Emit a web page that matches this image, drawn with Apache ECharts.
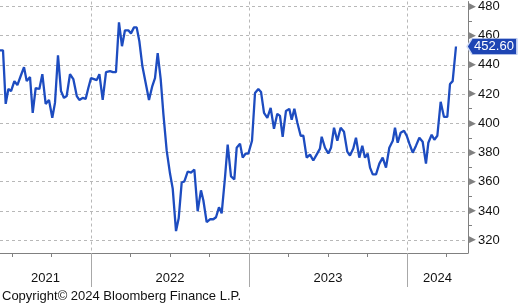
<!DOCTYPE html>
<html><head><meta charset="utf-8">
<script src="https://cdn.jsdelivr.net/npm/echarts@6/dist/echarts.min.js"></script>
<style>html,body{margin:0;padding:0;background:#fff}#c{width:518px;height:305px}</style>
</head><body><div id="c"></div>
<script>
// time positions (decimal years) of each weekly observation
const dates = [
2021.424,2021.443,2021.460,2021.477,2021.494,2021.515,2021.534,2021.555,2021.576,2021.593,
2021.614,2021.631,2021.650,2021.673,2021.692,2021.713,2021.734,2021.755,2021.772,2021.791,
2021.810,2021.829,2021.846,2021.867,2021.888,2021.910,2021.926,2021.947,2021.966,2021.983,
2022.000,2022.019,2022.036,2022.053,2022.074,2022.095,2022.120,2022.139,2022.158,2022.177,
2022.196,2022.215,2022.236,2022.253,2022.272,2022.289,2022.306,2022.325,2022.346,2022.367,
2022.388,2022.405,2022.422,2022.441,2022.458,2022.479,2022.500,2022.517,2022.538,2022.555,
2022.574,2022.591,2022.612,2022.633,2022.654,2022.675,2022.696,2022.711,2022.732,2022.753,
2022.774,2022.791,2022.810,2022.827,2022.848,2022.865,2022.886,2022.907,2022.922,2022.943,
2022.960,2022.979,2022.996,2023.019,2023.038,2023.059,2023.076,2023.095,2023.116,2023.137,
2023.158,2023.179,2023.196,2023.213,2023.234,2023.255,2023.270,2023.287,2023.306,2023.327,
2023.344,2023.365,2023.386,2023.407,2023.428,2023.449,2023.460,2023.481,2023.502,2023.519,
2023.538,2023.559,2023.580,2023.601,2023.622,2023.639,2023.660,2023.677,2023.698,2023.717,
2023.734,2023.751,2023.766,2023.783,2023.804,2023.825,2023.846,2023.867,2023.888,2023.910,
2023.924,2023.941,2023.960,2023.981,2023.998,2024.015,2024.036,2024.057,2024.078,2024.099,
2024.120,2024.135,2024.156,2024.173,2024.192,2024.213,2024.234,2024.255,2024.272,2024.289,
2024.310];
const values = [
450.0,450.0,413.3,423.5,422.1,428.9,426.2,432.4,438.5,428.9,
431.7,407.2,424.2,423.5,433.7,413.3,416.0,403.8,414.0,446.6,
422.1,417.4,418.7,433.7,430.3,418.7,416.0,417.4,416.7,424.2,
431.0,430.3,429.6,433.7,416.0,435.1,435.8,435.1,435.1,469.1,
452.8,463.7,463.7,461.6,465.7,465.7,456.2,439.2,427.6,416.0,
425.5,431.0,448.0,430.3,406.5,381.3,365.6,355.4,326.2,335.0,
359.5,360.2,367.0,366.3,368.4,339.8,354.1,347.3,332.3,334.3,
334.3,335.7,342.5,338.4,362.9,385.4,363.6,361.6,383.3,386.1,
376.5,379.3,379.3,388.1,420.8,423.5,421.5,407.2,403.8,410.6,
396.3,406.5,405.1,390.8,408.5,409.9,402.4,409.9,400.4,391.5,
391.5,376.5,378.6,374.5,378.6,382.7,390.8,383.3,379.3,383.3,
397.0,388.1,397.0,394.2,380.6,377.9,382.7,390.1,376.5,384.7,
376.5,379.3,369.7,365.0,365.0,372.4,376.5,369.7,383.3,388.1,
397.0,386.7,393.6,394.9,391.5,386.1,379.9,384.7,390.1,387.4,
372.4,386.7,392.2,388.8,391.5,414.7,404.4,404.4,426.9,428.9,
452.6];
const yTicks = [320,340,360,380,400,420,440,460,480];
const yMinorTicks = [330,350,370,390,410,430,450,470];
const yearBounds = [2022,2023,2024];
const quarterTicks = [2021.5,2021.75,2022.25,2022.5,2022.75,2023.25,2023.5,2023.75,2024.25];
const yearLabels = ['2021','2022','2023','2024'];
const yearLabelPos = [2021.712,2022.5,2023.5,2024.193];
const xMin = 2021.424, xMax = 2024.386, yMin = 311.2, yMax = 483.4;
const copyright = 'Copyright\u00A9 2024 Bloomberg Finance L.P.';

const FONT = '"Liberation Sans",Arial,sans-serif';
const AXIS = '#808080';
const GRIDC = '#b8b8b8';
const BLUE = '#1d4cc0';

const chart = echarts.init(document.getElementById('c'), null, {renderer:'canvas'});
const last = values.length - 1;
chart.setOption({
  animation: false,
  backgroundColor: '#fff',
  grid: {left: 0, right: 50, top: 0, bottom: 52, containLabel: false},
  xAxis: [
    {type:'value', min:xMin, max:xMax, position:'bottom',
     axisLine:{show:true, lineStyle:{color:AXIS, width:1}},
     axisTick:{show:true, customValues: quarterTicks, length:4, lineStyle:{color:AXIS}},
     axisLabel:{show:false}, splitLine:{show:false}},
    {type:'value', min:xMin, max:xMax, position:'bottom',
     axisLine:{show:false},
     axisTick:{show:true, customValues: yearBounds, length:34, lineStyle:{color:'#a8a8a8'}},
     axisLabel:{show:true, customValues: yearLabelPos, margin:19,
       formatter: v => yearLabels[yearLabelPos.findIndex(p => Math.abs(p - v) < 1e-6)],
       fontFamily: FONT, fontSize: 13, color:'#111'},
     splitLine:{show:true, lineStyle:{color:GRIDC, type:[3,3], width:1}}}
  ],
  yAxis: [
    {type:'value', min:yMin, max:yMax, position:'right',
     axisLine:{show:true, lineStyle:{color:AXIS, width:1}},
     axisTick:{show:true, customValues: yMinorTicks, length:4, lineStyle:{color:AXIS}},
     axisLabel:{show:false}, splitLine:{show:false}},
    {type:'value', min:yMin, max:yMax, position:'right',
     axisLine:{show:false},
     axisTick:{show:false, customValues: yTicks},
     axisLabel:{show:true, customValues: yTicks, margin:1,
       formatter: v => '{t|\u25B6}{v|' + v + '}',
       rich:{
         t:{color:AXIS, fontSize:9, fontFamily:'DejaVu Sans', padding:[0,2,0,0]},
         v:{color:'#111', fontSize:13, fontFamily:FONT}
       }},
     splitLine:{show:true, lineStyle:{color:GRIDC, type:[3,3], width:1}}}
  ],
  series: [{
    type:'line', xAxisIndex:0, yAxisIndex:0,
    data: dates.map((d,i) => [d, values[i]]),
    showSymbol:false, symbol:'none',
    lineStyle:{color:BLUE, width:2.3},
    markPoint:{
      symbol:'path://M0,8 L5,0 L50,0 L50,16 L5,16 Z',
      symbolSize:[50,16], symbolOffset:[36,0],
      itemStyle:{color:'#1e45b4', borderColor:'#d0dbf5', borderWidth:1},
      label:{show:true, position:'inside', offset:[2,0], color:'#fff',
        fontFamily:FONT, fontSize:13,
        formatter: p => Number(p.value).toFixed(2)},
      data:[{coord:[dates[last], values[last]], value: values[last]}]
    }
  }],
  graphic: [{
    type:'text', left:2, top:290,
    style:{text: copyright, fontFamily:FONT, fontSize:13, fill:'#111'}
  }]
});
</script></body></html>
